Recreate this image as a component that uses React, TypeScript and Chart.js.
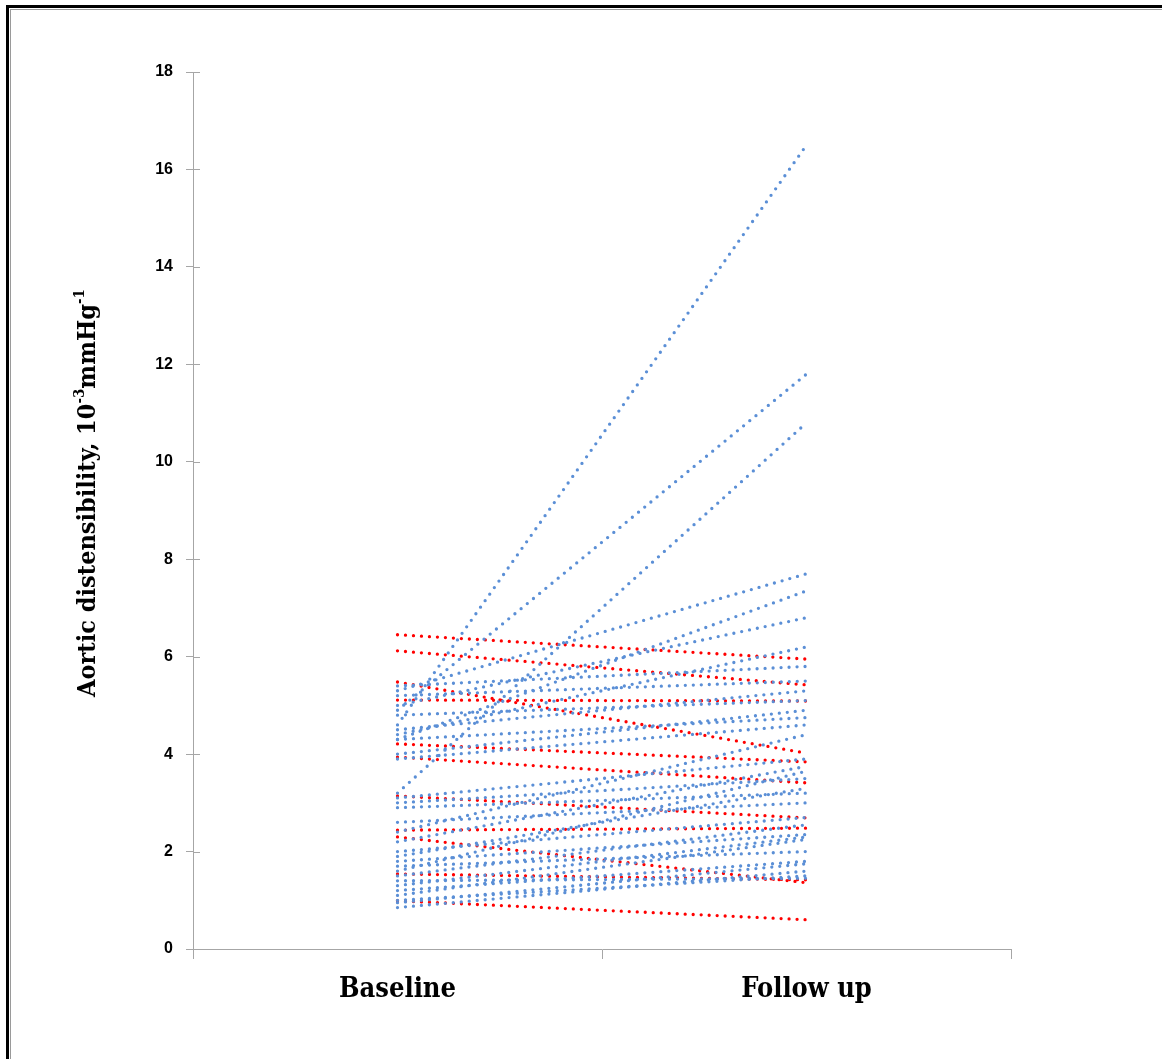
import React, { useEffect, useRef } from "react";
import { Chart, registerables } from "chart.js";

Chart.register(...registerables);

// Time points on the x axis
const categories = ["Baseline", "Follow up"];

// Patients whose distensibility rose (baseline, follow-up), 10^-3 mmHg^-1
const risingBaseline = [4.6, 4.9, 3.2, 5.3, 4.3, 5.0, 4.4, 5.4, 5.2, 4.5, 4.8, 4.0, 4.3, 2.4, 3.1, 2.2, 1.6, 3.0, 1.9, 2.9, 2.0, 1.5, 1.3, 1.1, 1.7, 1.2, 0.85, 1.0, 1.4, 2.6, 3.9, 1.8, 0.95];
const risingFollowUp = [16.5, 11.8, 10.8, 7.7, 7.35, 6.8, 6.2, 5.8, 5.5, 5.3, 5.1, 4.9, 4.75, 4.4, 3.9, 3.75, 3.65, 3.5, 3.3, 3.2, 2.7, 2.55, 2.3, 2.25, 2.0, 1.8, 1.6, 1.5, 1.45, 3.0, 4.6, 2.35, 1.75];

// Patients whose distensibility fell
const fallingBaseline = [6.45, 6.12, 5.48, 5.11, 4.21, 3.94, 3.14, 2.44, 2.3, 1.54, 0.99];
const fallingFollowUp = [5.95, 5.42, 4.02, 5.09, 3.84, 3.41, 2.69, 2.48, 1.36, 1.42, 0.6];

// Axis ticks
const yTicks = [0, 2, 4, 6, 8, 10, 12, 14, 16, 18];

const BLUE = "#5B8FD6";
const RED = "#FF0000";
const AXIS_GREY = "#A6A6A6";
const SERIF = "'DejaVu Serif Condensed', 'DejaVu Serif', serif";

function pairLine(b: number, f: number, color: string) {
  return {
    data: [b, f],
    borderColor: color,
    backgroundColor: color,
    borderWidth: 3.3,
    borderDash: [0, 8],
    borderCapStyle: "round" as const,
    pointRadius: 0,
    pointHoverRadius: 0,
    tension: 0,
    fill: false,
  };
}

// Page frame, inner half of the y tick marks and the rotated axis title
const decorations = {
  id: "decorations",
  beforeDraw(chart: any) {
    const { ctx, width, height } = chart;
    ctx.save();
    ctx.fillStyle = "#ffffff";
    ctx.fillRect(0, 0, width, height);
    ctx.fillStyle = "#000000";
    ctx.fillRect(6, 5, width - 6, 3);
    ctx.fillRect(6, 5, 3, height - 5);
    ctx.fillStyle = "#9a9a9a";
    ctx.fillRect(10, 9, width - 10, 1);
    ctx.fillRect(10, 9, 1, height - 9);
    ctx.restore();
  },
  afterDraw(chart: any) {
    const { ctx, chartArea, scales } = chart;
    const y = scales.y;
    ctx.save();
    ctx.strokeStyle = AXIS_GREY;
    ctx.lineWidth = 1;
    for (const t of yTicks) {
      const py = Math.round(y.getPixelForValue(t)) + 0.5;
      ctx.beginPath();
      ctx.moveTo(chartArea.left, py);
      ctx.lineTo(chartArea.left + 7, py);
      ctx.stroke();
    }
    // Axis title with superscripts
    const parts: [string, boolean][] = [
      ["Aortic distensibility, 10", false],
      ["-3", true],
      ["mmHg", false],
      ["-1", true],
    ];
    const big = `bold 25px ${SERIF}`;
    const small = `bold 15px ${SERIF}`;
    let total = 0;
    for (const [s, sup] of parts) {
      ctx.font = sup ? small : big;
      total += ctx.measureText(s).width;
    }
    ctx.translate(86, 493);
    ctx.rotate(-Math.PI / 2);
    ctx.fillStyle = "#000000";
    ctx.textBaseline = "alphabetic";
    let x = -total / 2;
    for (const [s, sup] of parts) {
      ctx.font = sup ? small : big;
      ctx.fillText(s, x, sup ? -2 : 9);
      x += ctx.measureText(s).width;
    }
    ctx.restore();
  },
};

export default function App() {
  const ref = useRef<HTMLCanvasElement | null>(null);

  useEffect(() => {
    if (!ref.current) return;
    const datasets = [
      ...risingBaseline.map((b, i) => pairLine(b, risingFollowUp[i], BLUE)),
      ...fallingBaseline.map((b, i) => pairLine(b, fallingFollowUp[i], RED)),
    ];
    const chart = new Chart(ref.current, {
      type: "line",
      data: { labels: categories, datasets },
      options: {
        animation: false,
        responsive: false,
        events: [],
        layout: { padding: { left: 100, top: 72, right: 151, bottom: 50 } },
        plugins: { legend: { display: false }, tooltip: { enabled: false } },
        scales: {
          x: {
            type: "category",
            offset: true,
            grid: {
              offset: true,
              drawOnChartArea: false,
              drawTicks: true,
              tickLength: 10,
              color: AXIS_GREY,
            },
            border: { color: AXIS_GREY, width: 1 },
            ticks: {
              color: "#000000",
              padding: 15,
              font: { family: SERIF, size: 27, weight: "bold" },
            },
            afterFit(scale: any) {
              scale.height = 60;
            },
          },
          y: {
            min: 0,
            max: 18,
            afterBuildTicks(scale: any) {
              scale.ticks = yTicks.map((v) => ({ value: v }));
            },
            grid: {
              drawOnChartArea: false,
              drawTicks: true,
              tickLength: 7,
              color: AXIS_GREY,
            },
            border: { color: AXIS_GREY, width: 1 },
            ticks: {
              color: "#000000",
              padding: 13,
              font: { family: "'Liberation Sans', Arial, sans-serif", size: 16, weight: "bold" },
            },
            afterFit(scale: any) {
              scale.width = 93;
            },
          },
        },
      },
      plugins: [decorations],
    });
    return () => chart.destroy();
  }, []);

  return (
    <div style={{ position: "fixed", left: 0, top: 0, width: 1162, height: 1059 }}>
      <canvas ref={ref} width={1162} height={1059} style={{ display: "block" }} />
    </div>
  );
}
